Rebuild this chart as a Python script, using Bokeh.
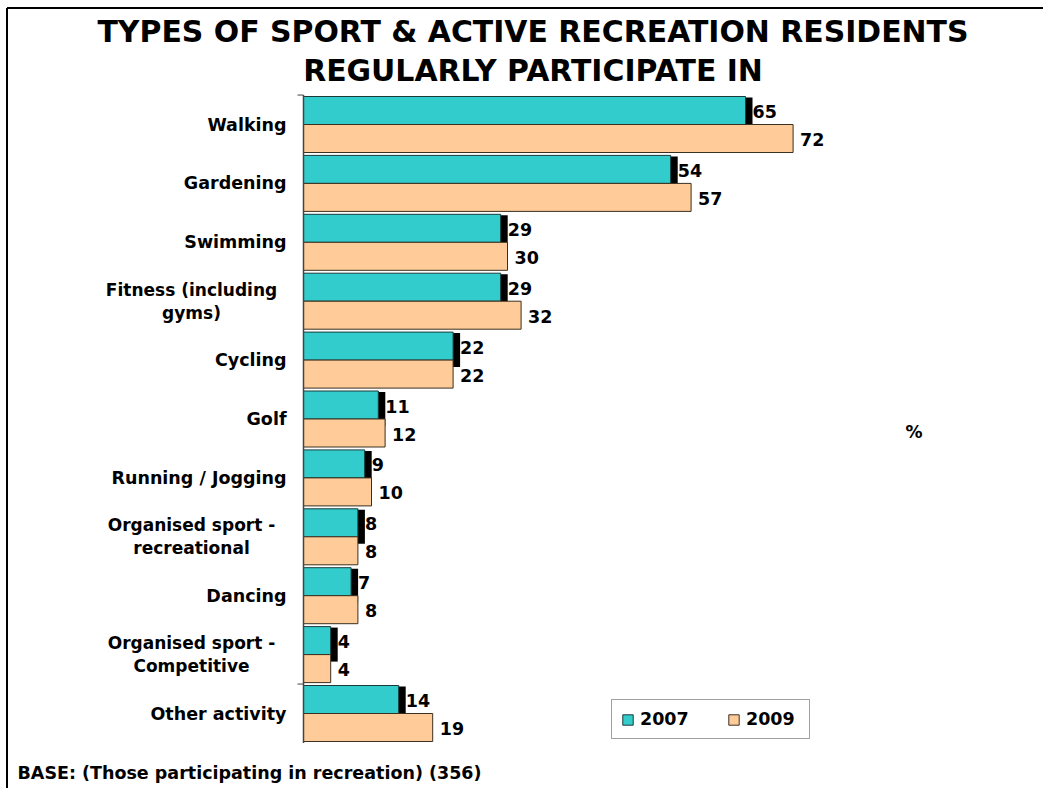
from bokeh.plotting import figure
from bokeh.models import Range1d, Label, Legend, LegendItem, ColumnDataSource
from bokeh.core.properties import value
from bokeh.embed import file_html
from bokeh.resources import INLINE

# ---------------- data ----------------
categories = ["Walking", "Gardening", "Swimming", "Fitness (including\ngyms)", "Cycling",
              "Golf", "Running / Jogging", "Organised sport -\nrecreational", "Dancing",
              "Organised sport -\nCompetitive", "Other activity"]
v2007 = [65, 54, 29, 29, 22, 11, 9, 8, 7, 4, 14]
v2009 = [72, 57, 30, 32, 22, 12, 10, 8, 8, 4, 19]
series_names = ["2007", "2009"]
title_lines = ["TYPES OF SPORT & ACTIVE RECREATION RESIDENTS", "REGULARLY PARTICIPATE IN"]
base_text = "BASE:  (Those participating in recreation) (356)"
unit_text = "%"

# ---------------- layout ----------------
W, H = 1043, 788
PX = 6.8            # pixels per percentage point
AXIS_PX = 303       # canvas x of value 0
ROW = 58.9          # pixels per category
FIRST_PX = 124      # canvas y of first category centre

x_start = -AXIS_PX / PX
x_end = x_start + W / PX
y_top = -FIRST_PX / ROW
y_bot = y_top + H / ROW

def dx(px):  # canvas px -> data x
    return x_start + px / PX

def dy(py):  # canvas px (from top) -> data y
    return y_top + py / ROW

FONT_NAME = "DejaVu Sans"
FONT = value(FONT_NAME)
TEAL = "#33CCCC"
PEACH = "#FFCC99"

p = figure(width=W, height=H, x_range=Range1d(x_start, x_end), y_range=Range1d(y_bot, y_top),
           output_backend="svg", toolbar_location=None, x_axis_location=None, y_axis_location=None,
           title_location=None, min_border=0)
p.grid.visible = False
p.outline_line_color = None
p.background_fill_color = "white"
p.border_fill_color = "white"

n = len(categories)
idx = list(range(n))
bar_h = 28 / ROW
half = 14 / ROW
src = ColumnDataSource(dict(
    y07=[i - half for i in idx],
    y09=[i + half for i in idx],
    ysh=[i - half + 4 / ROW for i in idx],
    v07=v2007, v09=v2009,
    sl=[7 / PX] * n,
    sr=[v + 7 / PX for v in v2007],
))

# shadow behind 2007 bars
p.hbar(y="ysh", left="sl", right="sr", height=bar_h + 6 / ROW, source=src,
       fill_color="black", line_color=None)
r07 = p.hbar(y="y07", left=0, right="v07", height=bar_h, source=src,
             fill_color=TEAL, line_color="#1a3a3a", line_width=1)
r09 = p.hbar(y="y09", left=0, right="v09", height=bar_h, source=src,
             fill_color=PEACH, line_color="#3a3020", line_width=1)

# axis line with its two visible ticks
p.segment(x0=[0], y0=[-0.5], x1=[0], y1=[n - 0.5], line_color="#444", line_width=1.5)
p.segment(x0=[-6 / PX, -6 / PX], y0=[-0.5, n - 1.5], x1=[0, 0], y1=[-0.5, n - 1.5],
          line_color="#444", line_width=1)

# value labels
lab07 = ColumnDataSource(dict(x=v2007, y=[i - half for i in idx], t=[str(v) for v in v2007]))
lab09 = ColumnDataSource(dict(x=v2009, y=[i + half for i in idx], t=[str(v) for v in v2009]))
for s in (lab07, lab09):
    p.text(x="x", y="y", text="t", source=s, x_offset=7, y_offset=1, text_align="left",
           text_baseline="middle", text_font=FONT, text_font_style="bold",
           text_font_size="17.5px", text_color="black")

# category labels
single = dict(x=[], y=[], t=[])
multi = dict(x=[], y=[], t=[], yo=[])
for i, c in enumerate(categories):
    lines = c.split("\n")
    if len(lines) == 1:
        single["x"].append(0); single["y"].append(i); single["t"].append(c)
    else:
        for k, ln in enumerate(lines):
            multi["x"].append(0); multi["y"].append(i); multi["t"].append(ln)
            multi["yo"].append(-11.5 if k == 0 else 11.5)
p.text(x="x", y="y", text="t", source=ColumnDataSource(single), x_offset=-17, text_align="right",
       text_baseline="middle", text_font=FONT, text_font_style="bold", text_font_size="17.5px",
       text_color="black")
p.text(x="x", y="y", text="t", source=ColumnDataSource(multi), x_offset=-112, y_offset="yo",
       text_align="center", text_baseline="middle", text_font=FONT, text_font_style="bold",
       text_font_size="17px", text_color="black")

# title
for t, ypx in zip(title_lines, [31, 70]):
    p.add_layout(Label(x=dx(532.5), y=dy(ypx), text=t, text_align="center", text_baseline="middle",
                       text_font=FONT_NAME, text_font_style="bold", text_font_size="29.9px",
                       text_color="black"))

p.add_layout(Label(x=dx(905), y=dy(431), text=unit_text, text_align="left", text_baseline="middle",
                   text_font=FONT_NAME, text_font_style="bold", text_font_size="17px",
                   text_color="black"))
p.add_layout(Label(x=dx(17), y=dy(772), text=base_text, text_align="left", text_baseline="middle",
                   text_font=FONT_NAME, text_font_style="bold", text_font_size="17.5px",
                   text_color="black"))

# frame lines (left and top)
p.segment(x0=[dx(6.5), dx(6.5)], y0=[dy(7.5), dy(7.5)], x1=[x_end, dx(6.5)], y1=[dy(7.5), y_bot],
          line_color="black", line_width=2)

legend = Legend(items=[LegendItem(label=series_names[0], renderers=[r07]),
                       LegendItem(label=series_names[1], renderers=[r09])],
                orientation="horizontal", location=(611, 49), glyph_width=13, glyph_height=13,
                label_text_font=FONT_NAME, label_text_font_style="bold",
                label_text_font_size="17.5px", label_text_color="black",
                padding=9, spacing=33, label_standoff=6, label_width=54, margin=0,
                border_line_color="#444", border_line_width=1.5, background_fill_alpha=1)
p.add_layout(legend)

open("out.html", "w").write(file_html(p, INLINE))
